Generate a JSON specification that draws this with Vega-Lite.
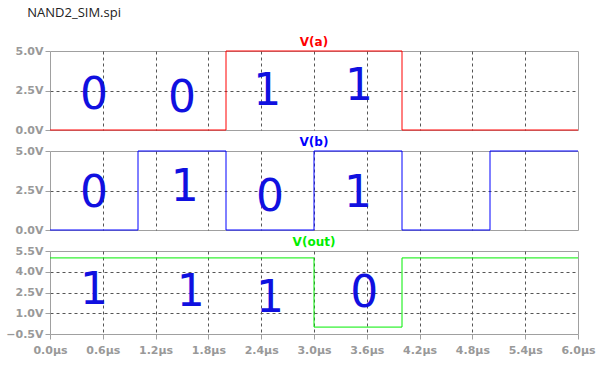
{
  "$schema": "https://vega.github.io/schema/vega-lite/v6.json",
  "background": "#ffffff",
  "padding": {"left": 5, "top": 6, "right": 28, "bottom": 8},
  "title": {"text": "NAND2_SIM.spi", "anchor": "start", "fontSize": 13, "font": "Open Sans", "fontWeight": "normal", "color": "#222222", "offset": 16, "dx": 22},
  "datasets": {
    "wave": [
      {"signal": "V(a)", "t": 0, "v": 0}, {"signal": "V(a)", "t": 2, "v": 5}, {"signal": "V(a)", "t": 4, "v": 0}, {"signal": "V(a)", "t": 6, "v": 0},
      {"signal": "V(b)", "t": 0, "v": 0}, {"signal": "V(b)", "t": 1, "v": 5}, {"signal": "V(b)", "t": 2, "v": 0}, {"signal": "V(b)", "t": 3, "v": 5}, {"signal": "V(b)", "t": 4, "v": 0}, {"signal": "V(b)", "t": 5, "v": 5}, {"signal": "V(b)", "t": 6, "v": 5},
      {"signal": "V(out)", "t": 0, "v": 5}, {"signal": "V(out)", "t": 3, "v": 0}, {"signal": "V(out)", "t": 4, "v": 5}, {"signal": "V(out)", "t": 6, "v": 5}
    ],
    "notes": [
      {"signal": "V(a)", "t": 0.5, "v": 2.15, "label": "0"},
      {"signal": "V(a)", "t": 1.5, "v": 1.96, "label": "0"},
      {"signal": "V(a)", "t": 2.47, "v": 2.4, "label": "1"},
      {"signal": "V(a)", "t": 3.51, "v": 2.7, "label": "1"},
      {"signal": "V(b)", "t": 0.5, "v": 2.28, "label": "0"},
      {"signal": "V(b)", "t": 1.53, "v": 2.66, "label": "1"},
      {"signal": "V(b)", "t": 2.5, "v": 2.0, "label": "0"},
      {"signal": "V(b)", "t": 3.5, "v": 2.3, "label": "1"},
      {"signal": "V(out)", "t": 0.5, "v": 2.63, "label": "1"},
      {"signal": "V(out)", "t": 1.6, "v": 2.5, "label": "1"},
      {"signal": "V(out)", "t": 2.5, "v": 2.05, "label": "1"},
      {"signal": "V(out)", "t": 3.57, "v": 2.4, "label": "0"}
    ]
  },
  "spacing": -1,
  "vconcat": [
    {
      "width": 528, "height": 79,
      "title": {"text": "V(a)", "color": "#ff0000", "fontSize": 12, "fontWeight": "bold", "font": "DejaVu Sans", "offset": -4},
      "layer": [
        {
          "data": {"name": "wave"},
          "transform": [{"filter": "datum.signal == 'V(a)'"}],
          "mark": {"type": "line", "interpolate": "step-after", "color": "#ff0000", "strokeWidth": 1, "clip": false},
          "encoding": {
            "x": {"field": "t", "type": "quantitative", "scale": {"domain": [0, 6], "nice": false}, "axis": {"values": [0, 0.6, 1.2, 1.8, 2.4, 3.0, 3.6, 4.2, 4.8, 5.4, 6.0], "tickCount": 30, "labels": false, "ticks": false, "title": null, "labelPadding": 0, "minExtent": 0, "maxExtent": 0, "gridOpacity": {"condition": {"test": "datum.value == 0 || datum.value == 6", "value": 0}, "value": 1}}},
            "y": {"field": "v", "type": "quantitative", "scale": {"domain": [0, 5], "nice": false}, "axis": {"values": [0, 2.5, 5], "tickCount": 30, "labelExpr": "format(datum.value, '.1f') + 'V'", "title": null, "gridOpacity": {"condition": {"test": "datum.value == 0 || datum.value == 5", "value": 0}, "value": 1}}}
          }
        },
        {
          "data": {"name": "notes"},
          "transform": [{"filter": "datum.signal == 'V(a)'"}],
          "mark": {"type": "text", "color": "#1010e0", "fontSize": 44, "font": "DejaVu Sans", "baseline": "middle", "align": "center"},
          "encoding": {
            "x": {"field": "t", "type": "quantitative"},
            "y": {"field": "v", "type": "quantitative"},
            "text": {"field": "label"}
          }
        }
      ]
    },
    {
      "width": 528, "height": 79,
      "title": {"text": "V(b)", "color": "#0000ff", "fontSize": 12, "fontWeight": "bold", "font": "DejaVu Sans", "offset": -4},
      "layer": [
        {
          "data": {"name": "wave"},
          "transform": [{"filter": "datum.signal == 'V(b)'"}],
          "mark": {"type": "line", "interpolate": "step-after", "color": "#0000ff", "strokeWidth": 1, "clip": false},
          "encoding": {
            "x": {"field": "t", "type": "quantitative", "scale": {"domain": [0, 6], "nice": false}, "axis": {"values": [0, 0.6, 1.2, 1.8, 2.4, 3.0, 3.6, 4.2, 4.8, 5.4, 6.0], "tickCount": 30, "labels": false, "ticks": false, "title": null, "labelPadding": 0, "minExtent": 0, "maxExtent": 0, "gridOpacity": {"condition": {"test": "datum.value == 0 || datum.value == 6", "value": 0}, "value": 1}}},
            "y": {"field": "v", "type": "quantitative", "scale": {"domain": [0, 5], "nice": false}, "axis": {"values": [0, 2.5, 5], "tickCount": 30, "labelExpr": "format(datum.value, '.1f') + 'V'", "title": null, "gridOpacity": {"condition": {"test": "datum.value == 0 || datum.value == 5", "value": 0}, "value": 1}}}
          }
        },
        {
          "data": {"name": "notes"},
          "transform": [{"filter": "datum.signal == 'V(b)'"}],
          "mark": {"type": "text", "color": "#1010e0", "fontSize": 44, "font": "DejaVu Sans", "baseline": "middle", "align": "center"},
          "encoding": {
            "x": {"field": "t", "type": "quantitative"},
            "y": {"field": "v", "type": "quantitative"},
            "text": {"field": "label"}
          }
        }
      ]
    },
    {
      "width": 528, "height": 83,
      "title": {"text": "V(out)", "color": "#00ee00", "fontSize": 12, "fontWeight": "bold", "font": "DejaVu Sans", "offset": -4},
      "layer": [
        {
          "data": {"name": "wave"},
          "transform": [{"filter": "datum.signal == 'V(out)'"}],
          "mark": {"type": "line", "interpolate": "step-after", "color": "#00ee00", "strokeWidth": 1, "clip": false},
          "encoding": {
            "x": {"field": "t", "type": "quantitative", "scale": {"domain": [0, 6], "nice": false}, "axis": {"values": [0, 0.6, 1.2, 1.8, 2.4, 3.0, 3.6, 4.2, 4.8, 5.4, 6.0], "tickCount": 30, "labelFlush": false, "labelExpr": "format(datum.value, '.1f') + 'µs'", "title": null, "gridOpacity": {"condition": {"test": "datum.value == 0 || datum.value == 6", "value": 0}, "value": 1}}},
            "y": {"field": "v", "type": "quantitative", "scale": {"domain": [-0.5, 5.5], "nice": false}, "axis": {"values": [-0.5, 1.0, 2.5, 4.0, 5.5], "tickCount": 30, "labelExpr": "format(datum.value, '.1f') + 'V'", "title": null, "gridOpacity": {"condition": {"test": "datum.value == -0.5 || datum.value == 5.5", "value": 0}, "value": 1}}}
          }
        },
        {
          "data": {"name": "notes"},
          "transform": [{"filter": "datum.signal == 'V(out)'"}],
          "mark": {"type": "text", "color": "#1010e0", "fontSize": 44, "font": "DejaVu Sans", "baseline": "middle", "align": "center"},
          "encoding": {
            "x": {"field": "t", "type": "quantitative"},
            "y": {"field": "v", "type": "quantitative"},
            "text": {"field": "label"}
          }
        }
      ]
    }
  ],
  "config": {
    "view": {"stroke": "#a0a0a0", "strokeWidth": 1},
    "axis": {
      "domain": false,
      "grid": true,
      "gridColor": "#555555",
      "gridDash": [3, 3],
      "gridWidth": 1,
      "tickColor": "#a0a0a0",
      "tickSize": 5,
      "labelColor": "#999999",
      "labelFont": "DejaVu Sans",
      "labelFontWeight": "bold",
      "labelFontSize": 11,
      "labelPadding": 2,
      "labelOverlap": false,
      "labelFlush": false
    },
    "axisX": {"labelPadding": 5}
  }
}
